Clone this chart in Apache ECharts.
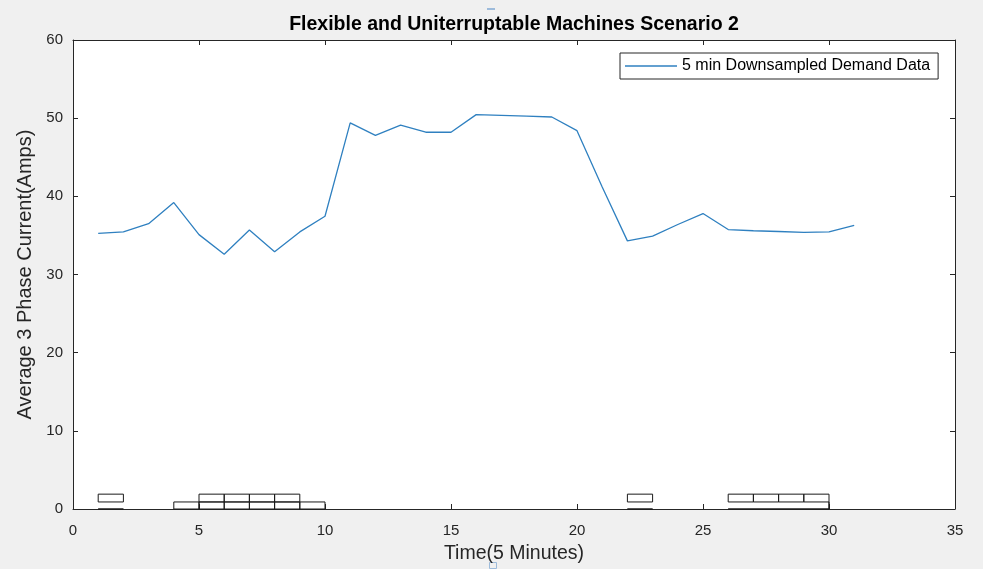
<!DOCTYPE html>
<html>
<head>
<meta charset="utf-8">
<script src="https://cdn.jsdelivr.net/npm/echarts@6/dist/echarts.min.js"></script>
<style>
  html, body { margin: 0; padding: 0; background: #f0f0f0; }
  #chart { width: 983px; height: 569px; }
</style>
</head>
<body>
<div id="chart"></div>
<script>
// Time steps (5-minute intervals) and downsampled demand current (A)
const timeSteps = [1, 2, 3, 4, 5, 6, 7, 8, 9, 10, 11, 12, 13, 14, 15, 16,
                   17, 18, 19, 20, 21, 22, 23, 24, 25, 26, 27, 28, 29, 30, 31];
const demand = [35.25, 35.45, 36.5, 39.2, 35.1, 32.6, 35.7, 32.9, 35.45, 37.45,
                49.4, 47.8, 49.1, 48.2, 48.2, 50.45, 50.35, 50.25, 50.15, 48.4,
                41.2, 34.3, 34.9, 36.4, 37.8, 35.75, 35.6, 35.5, 35.4, 35.45, 36.3];

// Machine schedule blocks: [start, end, bottom, top]
const machineBlocks = [
  [1, 2, 0.9, 1.9], [1, 2, 0, 0],
  [4, 5, 0, 0.9], [5, 6, 0, 0.9], [6, 7, 0, 0.9], [7, 8, 0, 0.9], [8, 9, 0, 0.9], [9, 10, 0, 0.9],
  [5, 6, 0.9, 1.9], [6, 7, 0.9, 1.9], [7, 8, 0.9, 1.9], [8, 9, 0.9, 1.9],
  [22, 23, 0.9, 1.9], [22, 23, 0, 0],
  [26, 27, 0.9, 1.9], [27, 28, 0.9, 1.9], [28, 29, 0.9, 1.9], [29, 30, 0.9, 1.9],
  [26, 30, 0, 0], [30, 30, 0, 0.9]
];

const xTicks = { min: 0, max: 35, interval: 5 };
const yTicks = { min: 0, max: 60, interval: 10 };

const titleText = 'Flexible and Uniterruptable Machines Scenario 2';
const xLabel = 'Time(5 Minutes)';
const yLabel = 'Average 3 Phase Current(Amps)';
const seriesName = '5 min Downsampled Demand Data';

const FONT = '"Liberation Sans", Arial, Helvetica, sans-serif';
const AX = '#262626';
const LINE = '#2f80c0';

const chart = echarts.init(document.getElementById('chart'), null, { renderer: 'canvas' });

const axisCommon = {
  type: 'value',
  axisLine: { show: true, onZero: false, lineStyle: { color: AX, width: 1 } },
  axisTick: { show: true, inside: true, length: 5, lineStyle: { color: AX, width: 1 } },
  splitLine: { show: false },
  axisLabel: { color: AX, fontFamily: FONT, fontSize: 15 }
};

chart.setOption({
  backgroundColor: '#f0f0f0',
  animation: false,
  grid: {
    left: 73, right: 28, top: 40, bottom: 58,
    show: true, backgroundColor: '#ffffff', borderWidth: 0
  },
  graphic: [
    {
      type: 'text', x: 514, y: 25, z: 10,
      style: {
        text: titleText, fill: '#000',
        font: 'bold 19.5px ' + FONT,
        textAlign: 'center', textVerticalAlign: 'middle'
      }
    },
    // figure selection handles
    { type: 'rect', shape: { x: 487, y: 8, width: 8, height: 2 }, style: { fill: '#9dbbdb' } },
    { type: 'rect', shape: { x: 489.5, y: 562.5, width: 7, height: 6 }, style: { fill: 'none', stroke: '#9dbbdb', lineWidth: 1 } }
  ],
  legend: {
    data: [{ name: seriesName, icon: 'rect' }],
    left: 620, top: 53,
    backgroundColor: '#ffffff',
    borderColor: AX, borderWidth: 1, borderRadius: 0,
    padding: [5, 8, 5, 5],
    itemWidth: 52, itemHeight: 1.5, itemGap: 6,
    textStyle: { fontFamily: FONT, fontSize: 16, color: '#000' }
  },
  xAxis: [
    Object.assign({}, axisCommon, {
      min: xTicks.min, max: xTicks.max, interval: xTicks.interval,
      position: 'bottom',
      name: xLabel, nameLocation: 'middle', nameGap: 35,
      nameTextStyle: { fontFamily: FONT, fontSize: 19.5, color: AX },
      axisLabel: Object.assign({}, axisCommon.axisLabel, { margin: 14 })
    }),
    Object.assign({}, axisCommon, {
      min: xTicks.min, max: xTicks.max, interval: xTicks.interval,
      position: 'top', axisLabel: { show: false }
    })
  ],
  yAxis: [
    Object.assign({}, axisCommon, {
      min: yTicks.min, max: yTicks.max, interval: yTicks.interval,
      position: 'left',
      name: yLabel, nameLocation: 'middle', nameGap: 33,
      nameTextStyle: { fontFamily: FONT, fontSize: 20, color: AX },
      axisLabel: Object.assign({}, axisCommon.axisLabel, { margin: 10 })
    }),
    Object.assign({}, axisCommon, {
      min: yTicks.min, max: yTicks.max, interval: yTicks.interval,
      position: 'right', axisLabel: { show: false }
    })
  ],
  series: [
    {
      name: seriesName,
      type: 'line',
      data: timeSteps.map((t, i) => [t, demand[i]]),
      showSymbol: false,
      symbol: 'none',
      lineStyle: { color: LINE, width: 1.3 },
      itemStyle: { color: LINE },
      z: 3
    },
    {
      name: 'blocks',
      type: 'custom',
      data: machineBlocks,
      renderItem: function (params, api) {
        const p0 = api.coord([api.value(0), api.value(3)]);
        const p1 = api.coord([api.value(1), api.value(2)]);
        return {
          type: 'rect',
          shape: { x: p0[0], y: p0[1], width: p1[0] - p0[0], height: p1[1] - p0[1] },
          style: { fill: 'none', stroke: '#1a1a1a', lineWidth: 1 }
        };
      },
      z: 4
    }
  ]
});
</script>
</body>
</html>
